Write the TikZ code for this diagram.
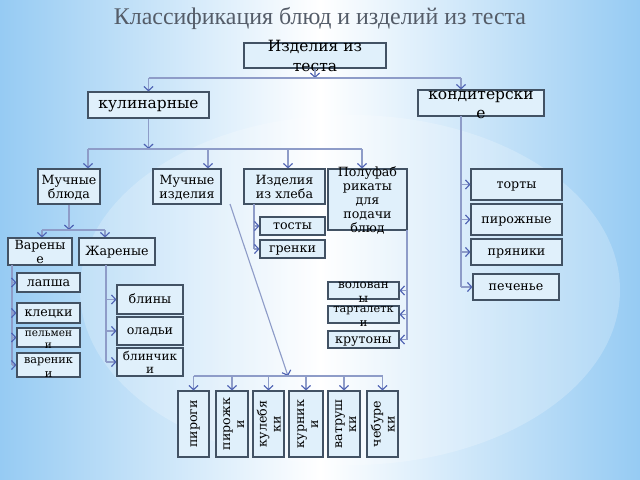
\documentclass[tikz,border=0pt]{standalone}
\usepackage{fontspec}
\setmainfont{DejaVu Serif}
\newfontfamily\titlefont{Liberation Serif}
\usepackage{tikz}
\usetikzlibrary{arrows.meta,calc}
\definecolor{bgblue}{HTML}{96CBF3}
\definecolor{boxfill}{HTML}{E0F0FB}
\definecolor{boxline}{HTML}{425264}
\definecolor{linkline}{HTML}{8E9CC8}
\definecolor{tipblue}{HTML}{4C60B2}
\definecolor{titlegray}{HTML}{545C68}
\newcommand{\ml}[1]{\smash{\raisebox{-0.15em}{\begin{tabular}{@{}c@{}}#1\end{tabular}}}}

\tikzset{
  box/.style={draw=boxline,fill=boxfill,line width=0.8pt,inner sep=0pt,
    text height=0.62em,text depth=0.12em,font=\fontsize{9}{10}\selectfont},
  bigbox/.style={box,font=\fontsize{11}{14}\selectfont},
  vbox/.style={box,rotate=90,minimum width=1.65cm},
  ln/.style={draw=linkline,line width=0.8pt},
  arr/.style={ln,-{Straight Barb[length=3pt,width=6.5pt,color=tipblue]}}
}

\begin{document}
\begin{tikzpicture}[x=0.025cm,y=-0.025cm]
  \useasboundingbox (0,0) rectangle (640,480);
  % background
  \shade[left color=bgblue,right color=bgblue,middle color=white] (0,0) rectangle (640,480);
  \fill[white,opacity=0.22] (350,290) ellipse [x radius=270,y radius=175];
  \node[font=\titlefont\fontsize{17}{20}\selectfont,text=titlegray] (title) at (320,18)
    {Классификация блюд и изделий из теста};

  % top levels
  \node[bigbox,minimum width=3.55cm,minimum height=0.625cm] (top) at (315,55.5) {\ml{Изделия из\\теста}};
  \node[bigbox,minimum width=3.025cm,minimum height=0.65cm] (kul) at (148.5,105) {кулинарные};
  \node[bigbox,minimum width=3.15cm,minimum height=0.65cm] (kon) at (481,103) {\ml{кондитерски\\е}};

  % culinary branch
  \node[box,minimum width=1.55cm,minimum height=0.875cm] (mbl) at (69,186.5) {\ml{Мучные\\блюда}};
  \node[box,minimum width=1.7cm,minimum height=0.875cm] (miz) at (187,186.5) {\ml{Мучные\\изделия}};
  \node[box,minimum width=2.025cm,minimum height=0.875cm] (ihl) at (284.5,186.5) {\ml{Изделия\\из хлеба}};
  \node[box,minimum width=1.975cm,minimum height=1.525cm] (pol) at (367.5,199.5) {\ml{Полуфаб\\рикаты\\для\\подачи\\блюд}};

  \node[box,minimum width=1.6cm,minimum height=0.675cm] (var) at (40,251.5) {\ml{Варены\\е}};
  \node[box,minimum width=1.9cm,minimum height=0.675cm] (zha) at (117,251.5) {Жареные};

  \node[box,minimum width=1.575cm,minimum height=0.475cm] (lap) at (48.5,282.5) {лапша};
  \node[box,minimum width=1.575cm,minimum height=0.5cm] (kle) at (48.5,313) {клецки};
  \node[box,minimum width=1.575cm,minimum height=0.475cm,font=\fontsize{7.5}{9}\selectfont] (pel) at (48.5,337.5) {\ml{пельмен\\и}};
  \node[box,minimum width=1.575cm,minimum height=0.6cm,font=\fontsize{8}{10}\selectfont] (vrk) at (48.5,365) {\ml{вареник\\и}};

  \node[box,minimum width=1.65cm,minimum height=0.725cm] (bli) at (150,299.5) {блины};
  \node[box,minimum width=1.65cm,minimum height=0.7cm] (ola) at (150,331) {оладьи};
  \node[box,minimum width=1.65cm,minimum height=0.7cm,font=\fontsize{8.5}{9}\selectfont] (blc) at (150,362) {\ml{блинчик\\и}};

  \node[box,minimum width=1.625cm,minimum height=0.45cm] (tos) at (292.5,226) {тосты};
  \node[box,minimum width=1.625cm,minimum height=0.45cm] (gre) at (292.5,249) {гренки};

  \node[box,minimum width=1.775cm,minimum height=0.425cm,font=\fontsize{8.5}{10}\selectfont] (vol) at (363.5,290.5) {\ml{волован\\ы}};
  \node[box,minimum width=1.775cm,minimum height=0.425cm,font=\fontsize{8}{10}\selectfont] (tar) at (363.5,314.5) {\ml{тарталетк\\и}};
  \node[box,minimum width=1.775cm,minimum height=0.425cm] (kru) at (363.5,339.5) {крутоны};

  \node[vbox,minimum height=0.775cm] (pir) at (193.5,424) {пироги};
  \node[vbox,minimum height=0.8cm] (prk) at (232,424) {\ml{пирожк\\и}};
  \node[vbox,minimum height=0.775cm] (kul2) at (268.5,424) {\ml{кулебя\\ки}};
  \node[vbox,minimum height=0.85cm] (kur) at (306,424) {\ml{курник\\и}};
  \node[vbox,minimum height=0.8cm] (vat) at (344,424) {\ml{ватруш\\ки}};
  \node[vbox,minimum height=0.775cm] (che) at (382.5,424) {\ml{чебуре\\ки}};

  % confectionery branch
  \node[box,minimum width=2.275cm,minimum height=0.775cm] (tor) at (516.5,184.5) {торты};
  \node[box,minimum width=2.275cm,minimum height=0.775cm] (pzh) at (516.5,219.5) {пирожные};
  \node[box,minimum width=2.275cm,minimum height=0.65cm] (pry) at (516.5,252) {пряники};
  \node[box,minimum width=2.15cm,minimum height=0.65cm] (pec) at (516,287) {печенье};

  % connectors
  \coordinate (j1) at (315,78);
  \coordinate (k1) at (461,78);
  \draw[arr] (top.south) -- (j1);
  \draw[ln] (kul.north |- j1) -- (k1);
  \draw[arr] (kul.north |- j1) -- (kul.north);
  \draw[arr] (k1) -- (k1 |- kon.north);

  \coordinate (j2) at (148.5,149);
  \draw[arr] (kul.south) -- (j2);
  \coordinate (b1) at (88,149);
  \coordinate (b2) at (208,149);
  \coordinate (b3) at (288,149);
  \coordinate (b4) at (362,149);
  \draw[ln] (b1) -- (b4);
  \draw[arr] (b1) -- (b1 |- mbl.north);
  \draw[arr] (b2) -- (b2 |- miz.north);
  \draw[arr] (b3) -- (b3 |- ihl.north);
  \draw[arr] (b4) -- (b4 |- pol.north);

  \coordinate (j3) at (69,230);
  \draw[arr] (mbl.south) -- (j3);
  \coordinate (c1) at (42,230);
  \coordinate (c2) at (105,230);
  \draw[ln] (c1) -- (c2);
  \draw[arr] (c1) -- (c1 |- var.north);
  \draw[arr] (c2) -- (c2 |- zha.north);

  \coordinate (v1) at (12,265);
  \draw[ln] (v1) -- (12,365);
  \foreach \n in {lap,kle,pel,vrk}
    \draw[arr] (v1 |- \n.west) -- (\n.west);

  \coordinate (z1) at (106,265);
  \draw[ln] (z1) -- (106,362);
  \foreach \n in {bli,ola,blc}
    \draw[arr] (z1 |- \n.west) -- (\n.west);

  \coordinate (h1) at (254,204);
  \draw[ln] (h1) -- (254,249);
  \foreach \n in {tos,gre}
    \draw[arr] (h1 |- \n.west) -- (\n.west);

  \coordinate (p1) at (407,230);
  \draw[ln] (p1) -- (407,340);
  \foreach \n in {vol,tar,kru}
    \draw[arr] (p1 |- \n.east) -- (\n.east);

  \coordinate (k2) at (461,116);
  \draw[ln] (k2) -- (461,287);
  \foreach \n in {tor,pzh,pry,pec}
    \draw[arr] (k2 |- \n.west) -- (\n.west);

  \coordinate (j4) at (288,376);
  \draw[arr] (230,204) -- (j4);
  \draw[ln] (pir.east |- j4) -- (che.east |- j4);
  \foreach \n in {pir,prk,kul2,kur,vat,che}
    \draw[arr] (\n.east |- j4) -- (\n.east);
\end{tikzpicture}
\end{document}
